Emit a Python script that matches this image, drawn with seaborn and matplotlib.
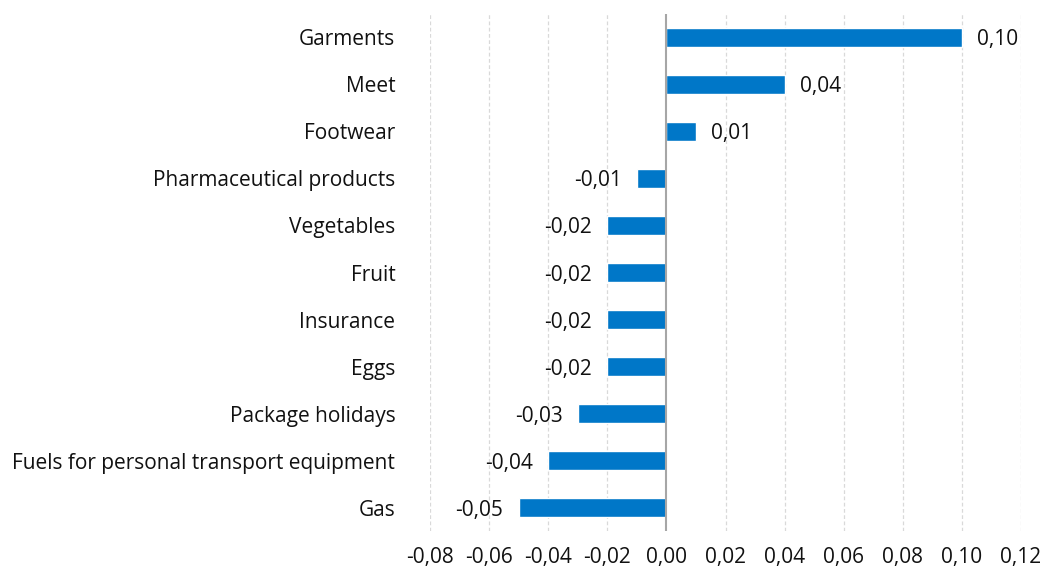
import matplotlib
matplotlib.use("Agg")
import matplotlib.pyplot as plt
import seaborn as sns
import pandas as pd
import numpy as np

categories = ["Garments", "Meet", "Footwear", "Pharmaceutical products", "Vegetables",
              "Fruit", "Insurance", "Eggs", "Package holidays",
              "Fuels for personal transport equipment", "Gas"]
values = [0.10, 0.04, 0.01, -0.01, -0.02, -0.02, -0.02, -0.02, -0.03, -0.04, -0.05]
xticks = [-0.08, -0.06, -0.04, -0.02, 0.00, 0.02, 0.04, 0.06, 0.08, 0.10, 0.12]

sns.set_style("white")
plt.rcParams['font.family'] = ['Open Sans', 'DejaVu Sans']
FS = 15.0

df = pd.DataFrame({"cat": categories, "val": values})

fig = plt.figure(figsize=(10.42, 5.69), dpi=100)
ax = fig.add_axes([0.4127, 0.066, 0.5672, 0.910])
sns.barplot(data=df, x="val", y="cat", orient="h", color="#0077C8", saturation=1,
            width=0.4, ax=ax, zorder=3)

ax.set_xlim(-0.08, 0.12)
ax.set_ylim(10.5, -0.5)
ax.set_xticks(xticks)
ax.set_xticklabels([f"{t:.2f}".replace(".", ",").replace("-0,00", "0,00") for t in xticks],
                   fontsize=FS, color="#111111")
ax.tick_params(axis="y", labelsize=FS, labelcolor="#111111", length=0, pad=25)
ax.tick_params(axis="x", length=0, pad=11.5)
ax.set_xlabel("")
ax.set_ylabel("")
for s in ax.spines.values():
    s.set_visible(False)
for t in xticks:
    if abs(t) > 1e-9:
        ax.axvline(t, color="#d9d9d9", lw=0.9, ls=(0, (3, 2)), zorder=1)
ax.axvline(0, color="#a6a6a6", lw=1.5, zorder=4)

for i, v in enumerate(values):
    lab = f"{v:.2f}".replace(".", ",")
    if v >= 0:
        ax.annotate(lab, (v, i), xytext=(11, 0), textcoords="offset points",
                    ha="left", va="center_baseline", fontsize=FS, color="#111111")
    else:
        ax.annotate(lab, (v, i), xytext=(-11, 0), textcoords="offset points",
                    ha="right", va="center_baseline", fontsize=FS, color="#111111")

fig.savefig("out.png", dpi=100)
